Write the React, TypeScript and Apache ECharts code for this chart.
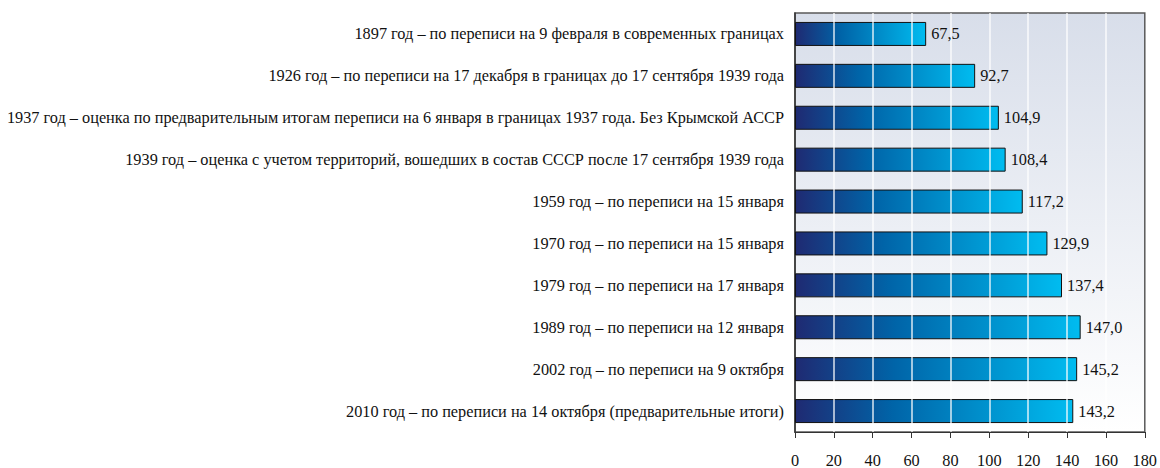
import React, { useEffect, useRef } from "react";
import * as echarts from "echarts";

const categories = [
  "1897 год – по переписи на 9 февраля в современных границах",
  "1926 год – по переписи на 17 декабря в границах до 17 сентября 1939 года",
  "1937 год – оценка по предварительным итогам переписи на 6 января в границах 1937 года. Без Крымской АССР",
  "1939 год – оценка с учетом территорий, вошедших в состав СССР после 17 сентября 1939 года",
  "1959 год – по переписи на 15 января",
  "1970 год – по переписи на 15 января",
  "1979 год – по переписи на 17 января",
  "1989 год – по переписи на 12 января",
  "2002 год – по переписи на 9 октября",
  "2010 год – по переписи на 14 октября (предварительные итоги)",
];
const values = [67.5, 92.7, 104.9, 108.4, 117.2, 129.9, 137.4, 147.0, 145.2, 143.2];
const gridValues = [20, 40, 60, 80, 100, 120, 140, 160];

const FONT = "'Liberation Serif', 'DejaVu Serif', serif";
const FS = 16.3;

export default function App() {
  const ref = useRef<HTMLDivElement>(null);
  useEffect(() => {
    document.body.style.margin = "0";
    const chart = echarts.init(ref.current!, null, { renderer: "svg" });
    chart.setOption({
      animation: false,
      grid: {
        left: 795,
        right: 13,
        top: 13,
        bottom: 36,
        show: true,
        borderColor: "#5a5a5a",
        borderWidth: 1.5,
        backgroundColor: new echarts.graphic.LinearGradient(0, 0, 0, 1, [
          { offset: 0, color: "#d8deea" },
          { offset: 1, color: "#ffffff" },
        ]),
      },
      xAxis: {
        type: "value",
        min: 0,
        max: 180,
        interval: 20,
        axisLine: { show: true, lineStyle: { color: "#333", width: 1 } },
        axisTick: { show: true, length: 6, lineStyle: { color: "#333" } },
        splitLine: { show: false },
        axisLabel: { fontFamily: FONT, fontSize: FS, color: "#111", margin: 20 },
      },
      yAxis: {
        type: "category",
        data: categories,
        inverse: true,
        axisLine: { show: true, lineStyle: { color: "#333", width: 1.5 } },
        axisTick: { show: false },
        axisLabel: { fontFamily: FONT, fontSize: FS, color: "#111", margin: 11 },
      },
      series: [
        {
          type: "bar",
          data: values,
          barWidth: 24,
          z: 2,
          itemStyle: {
            color: new echarts.graphic.LinearGradient(0, 0, 1, 0, [
              { offset: 0, color: "#1f2a72" },
              { offset: 0.35, color: "#0064a8" },
              { offset: 1, color: "#00bcf0" },
            ]),
            borderColor: "#111",
            borderWidth: 1,
          },
        },
        {
          type: "bar",
          data: values,
          barWidth: 24,
          barGap: "-100%",
          z: 10,
          silent: true,
          itemStyle: { color: "rgba(0,0,0,0)" },
          label: {
            show: true,
            position: "right",
            distance: 5,
            fontFamily: FONT,
            fontSize: FS,
            color: "#111",
            formatter: (p: any) => p.value.toFixed(1).replace(".", ","),
          },
        },
        {
          type: "line",
          data: [],
          z: 5,
          silent: true,
          markLine: {
            silent: true,
            symbol: "none",
            label: { show: false },
            lineStyle: { color: "rgba(255,255,255,0.85)", type: "solid", width: 1.5 },
            data: gridValues.map((v) => ({ xAxis: v })),
          },
        },
      ],
    });
    return () => chart.dispose();
  }, []);
  return <div ref={ref} style={{ width: 1160, height: 468 }} />;
}
